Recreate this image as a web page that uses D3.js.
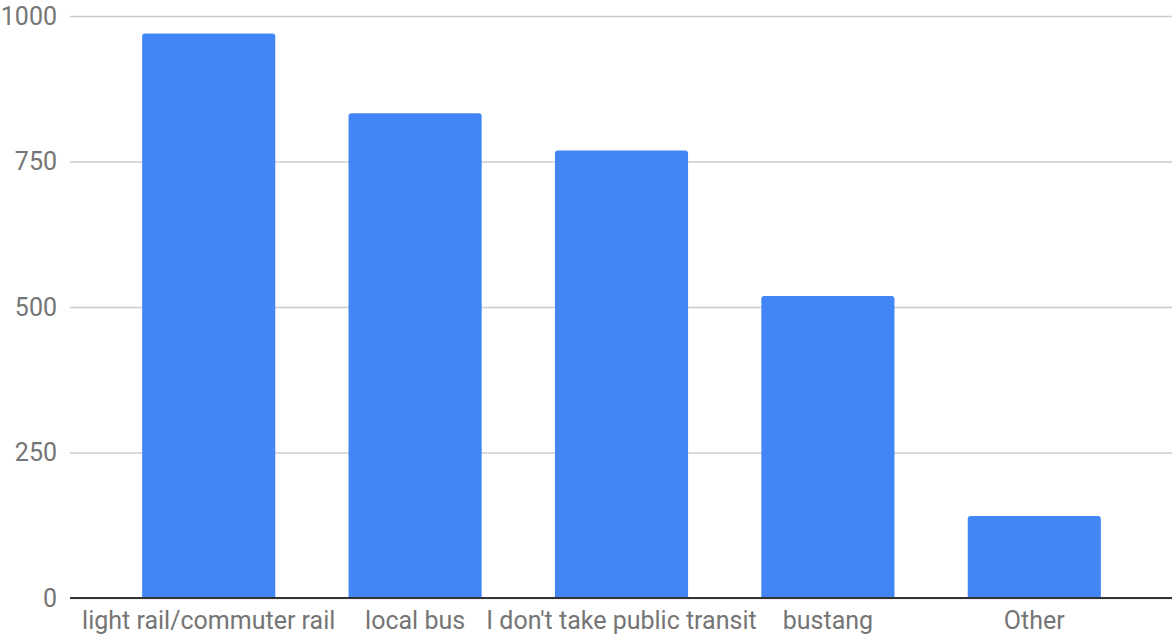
<!DOCTYPE html>
<html>
<head>
<meta charset="utf-8">
<script src="https://cdn.jsdelivr.net/npm/d3@7"></script>
<style>
  body { margin: 0; background: #fff; }
  svg { display: block; }
</style>
</head>
<body>
<svg id="chart"></svg>
<script>
// Data
const categories = ["light rail/commuter rail", "local bus", "I don't take public transit", "bustang", "Other"];
const counts = [970, 833, 769, 519, 141];
const yTicks = [0, 250, 500, 750, 1000];

const width = 1172, height = 640;
const margin = { top: 16, bottom: 42, left: 70, right: 0 };

const svg = d3.select("#chart")
  .attr("width", width)
  .attr("height", height);

// Scales
const xScale = d3.scaleBand()
  .domain(categories)
  .range([105.5, 1137.5])
  .paddingInner(0.355)
  .paddingOuter(0.1775);

const yScale = d3.scaleLinear()
  .domain([0, 1000])
  .range([height - margin.bottom, margin.top]);

// Gridlines + y tick labels
const yAxis = svg.append("g")
  .attr("transform", `translate(${margin.left},0)`)
  .call(d3.axisLeft(yScale)
    .tickValues(yTicks)
    .tickFormat(d3.format("d"))
    .tickSize(-(width - margin.left))
    .tickPadding(13));

yAxis.select(".domain").remove();
yAxis.selectAll(".tick line")
  .attr("stroke", "#cccccc")
  .attr("stroke-width", 1.5);
yAxis.selectAll(".tick text")
  .attr("fill", "#757575")
  .style("font-family", "Roboto, sans-serif")
  .style("font-size", "25px");

// Bars with slightly rounded tops
const r = 3;
svg.selectAll(".bar")
  .data(categories.map((c, i) => ({ cat: c, value: counts[i] })))
  .enter()
  .append("path")
  .attr("class", "bar")
  .attr("fill", "#4285f4")
  .attr("d", d => {
    const x0 = xScale(d.cat), x1 = x0 + xScale.bandwidth();
    const y0 = yScale(0), y1 = yScale(d.value);
    return `M${x0},${y0}V${y1 + r}Q${x0},${y1} ${x0 + r},${y1}H${x1 - r}Q${x1},${y1} ${x1},${y1 + r}V${y0}Z`;
  });

// Baseline and category labels
const xAxis = svg.append("g")
  .attr("transform", `translate(0,${yScale(0)})`)
  .call(d3.axisBottom(xScale).tickSize(0).tickPadding(13.5));

xAxis.select(".domain").remove();
xAxis.selectAll(".tick text")
  .attr("fill", "#757575")
  .style("font-family", "Roboto, sans-serif")
  .style("font-size", "25px");

svg.append("line")
  .attr("x1", margin.left)
  .attr("x2", width)
  .attr("y1", yScale(0))
  .attr("y2", yScale(0))
  .attr("stroke", "#333333")
  .attr("stroke-width", 2);
</script>
</body>
</html>
